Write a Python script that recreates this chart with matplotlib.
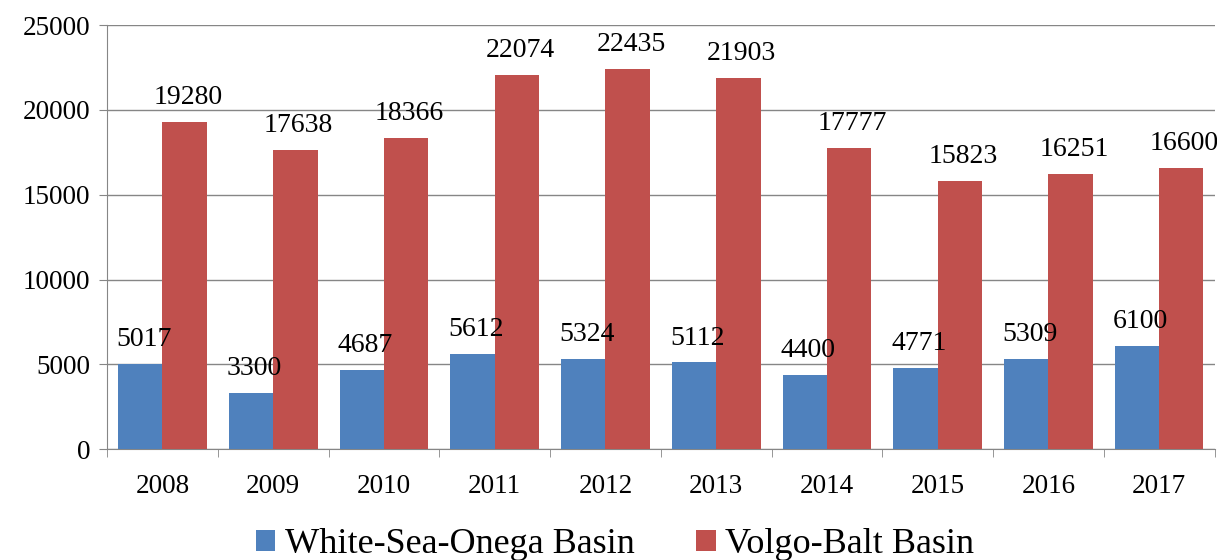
import matplotlib.pyplot as plt
import numpy as np

plt.rcParams['font.family'] = ['Liberation Serif', 'DejaVu Serif']

years = ['2008', '2009', '2010', '2011', '2012', '2013', '2014', '2015', '2016', '2017']
white_sea = [5017, 3300, 4687, 5612, 5324, 5112, 4400, 4771, 5309, 6100]
volgo_balt = [19280, 17638, 18366, 22074, 22435, 21903, 17777, 15823, 16251, 16600]

blue = '#4F81BD'
red = '#C0504D'

fig = plt.figure(figsize=(12.17, 5.6), dpi=100)
ax = fig.add_axes([0.088, 0.198, 0.910, 0.757])

x = np.arange(len(years))
w = 0.4
ax.bar(x - w / 2, white_sea, w, color=blue, label='White-Sea-Onega Basin', zorder=3)
ax.bar(x + w / 2, volgo_balt, w, color=red, label='Volgo-Balt Basin', zorder=3)

for i in range(len(years)):
    ax.text(x[i] - w / 2 + 0.03, white_sea[i] + 700, str(white_sea[i]), ha='center', va='bottom', fontsize=20)
    ax.text(x[i] + w / 2 + 0.03, volgo_balt[i] + 700, str(volgo_balt[i]), ha='center', va='bottom', fontsize=20)

ax.set_xlim(-0.5, len(years) - 0.5)
ax.set_ylim(0, 25000)
ax.set_yticks(range(0, 25001, 5000))
ax.set_xticks(x)
ax.set_xticklabels(years)
ax.set_xticks(np.arange(-0.5, len(years), 1), minor=True)
ax.tick_params(axis='x', which='major', length=0, labelsize=19.5, pad=18)
ax.tick_params(axis='x', which='minor', length=6, color='#868686')
ax.tick_params(axis='y', length=6, labelsize=19.5, color='#868686', pad=6)

ax.yaxis.grid(True, color='#868686', linewidth=1, zorder=0)
for s in ['top', 'right']:
    ax.spines[s].set_visible(False)
ax.spines['left'].set_color('#868686')
ax.spines['bottom'].set_color('#868686')

fig.legend(*ax.get_legend_handles_labels(), loc='center', bbox_to_anchor=(0.505, 0.027),
           ncol=2, frameon=False, fontsize=26, handlelength=0.55, handleheight=0.55,
           columnspacing=1.7, handletextpad=0.25, borderpad=0, borderaxespad=0)

fig.savefig('out.png', dpi=100)
